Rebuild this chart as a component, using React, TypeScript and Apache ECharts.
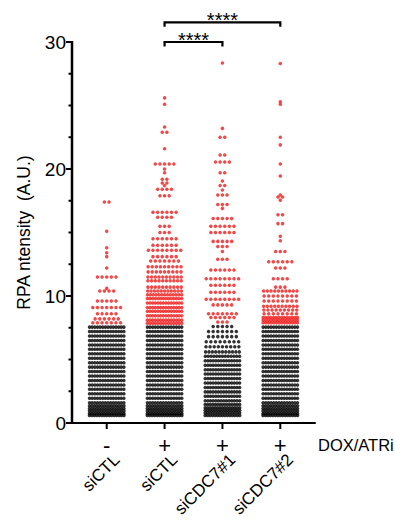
import React, { useEffect, useRef } from "react";
import * as echarts from "echarts";

// ---- data ----
const categories = ["siCTL", "siCTL", "siCDC7#1", "siCDC7#2"];
const treatment = ["-", "+", "+", "+"];
const yTicks = [0, 10, 20, 30];
const yMinorTicks = [2.5, 5, 7.5, 12.5, 15, 17.5, 22.5, 25, 27.5];
const yTitle = "RPA ntensity  (A.U.)";
const xTitle = "DOX/ATRi";
const redThreshold = 7.7;

// rows of the dot plot: [RPA intensity, number of cells in that row]
const siCTLminusRows: [number, number][] = [
  [17.4, 2], [15.1, 1], [13.8, 1], [13.4, 1], [13.1, 1], [12.2, 1], [11.5, 5], [10.6, 1],
  [10.4, 4], [9.6, 5], [9.1, 7], [8.6, 5], [8.2, 6], [7.9, 7],
  [7.55, 14], [7.2, 14], [6.85, 14], [6.5, 14], [6.15, 14], [5.8, 14], [5.45, 14], [5.1, 14],
  [4.75, 14], [4.4, 14], [4.05, 14], [3.7, 14], [3.35, 14], [3.0, 14], [2.65, 14], [2.3, 14],
  [1.95, 14], [1.6, 14], [1.35, 15], [1.15, 15], [0.95, 15], [0.75, 15], [0.6, 15],
];
const siCTLplusRows: [number, number][] = [
  [25.6, 1], [25.1, 1], [23.3, 1], [22.9, 2], [21.6, 1], [20.4, 5], [20.0, 1], [19.7, 1],
  [19.2, 2], [18.9, 2], [18.7, 1], [18.4, 4], [17.9, 3], [16.6, 6], [16.2, 4], [15.5, 3],
  [15.0, 3], [14.5, 6], [14.0, 6], [13.6, 8], [13.1, 6], [12.75, 7], [12.3, 9], [11.9, 9],
  [11.5, 10], [11.2, 10], [10.7, 10], [10.4, 11], [10.1, 13], [9.8, 14], [9.45, 14], [9.1, 14],
  [8.8, 14], [8.45, 14], [8.1, 14], [7.85, 14],
  [7.55, 14], [7.2, 14], [6.85, 14], [6.5, 14], [6.15, 14], [5.8, 14], [5.45, 14], [5.1, 14],
  [4.75, 14], [4.4, 14], [4.05, 14], [3.7, 14], [3.35, 14], [3.0, 14], [2.65, 14], [2.3, 14],
  [1.95, 14], [1.6, 14], [1.35, 15], [1.15, 15], [0.95, 15], [0.75, 15], [0.6, 15],
];
const siCDC7n1Rows: [number, number][] = [
  [28.35, 1], [23.2, 1], [22.5, 2], [21.1, 2], [20.55, 4], [19.7, 2], [19.05, 1], [18.7, 2],
  [18.35, 1], [17.95, 3], [17.2, 3], [16.9, 1], [16.1, 5], [15.5, 6], [15.0, 6], [14.3, 5],
  [13.9, 3], [13.5, 1], [12.9, 3], [12.05, 6], [11.35, 8], [10.85, 6], [10.3, 6], [9.75, 8],
  [9.3, 5], [8.6, 7], [8.3, 6], [7.95, 3],
  [7.6, 5], [7.2, 7], [6.8, 7], [6.4, 8], [6.0, 9], [5.6, 11],
  [5.25, 13], [4.9, 14], [4.55, 14], [4.2, 14], [3.85, 14], [3.5, 14], [3.15, 14], [2.8, 14],
  [2.45, 14], [2.1, 14], [1.75, 14], [1.45, 15], [1.2, 15], [1.0, 15], [0.8, 15], [0.6, 15],
];
const siCDC7n2Rows: [number, number][] = [
  [28.3, 1], [25.3, 1], [25.1, 1], [22.5, 1], [21.9, 1], [20.4, 1], [19.45, 1], [17.95, 1],
  [17.8, 2], [17.55, 1], [16.4, 2], [15.7, 2], [14.7, 1], [14.35, 1], [13.5, 3], [12.7, 6],
  [12.2, 3], [11.35, 4], [10.7, 3], [10.4, 10], [10.0, 8], [9.6, 8], [9.2, 10], [8.9, 9],
  [8.6, 8], [8.3, 14], [8.1, 14], [7.9, 14],
  [7.55, 14], [7.2, 14], [6.85, 14], [6.5, 14], [6.15, 14], [5.8, 14], [5.45, 14], [5.1, 14],
  [4.75, 14], [4.4, 14], [4.05, 14], [3.7, 14], [3.35, 14], [3.0, 14], [2.65, 14], [2.3, 14],
  [1.95, 14], [1.6, 14], [1.35, 15], [1.15, 15], [0.95, 15], [0.75, 15], [0.6, 15],
];
const columns = [siCTLminusRows, siCTLplusRows, siCDC7n1Rows, siCDC7n2Rows];

// significance comparisons: [from column, to column, label]
const comparisons: [number, number, string][] = [
  [1, 2, "****"],
  [1, 3, "****"],
];

function buildPoints() {
  const red: number[][] = [];
  const black: number[][] = [];
  columns.forEach((rows, ci) => {
    rows.forEach(([v, n]) => {
      const s = Math.min(0.08, 0.64 / n);
      for (let k = 0; k < n; k++) {
        const x = ci + (k - (n - 1) / 2) * s;
        (v > redThreshold ? red : black).push([x, v]);
      }
    });
  });
  return { red, black };
}

const FONT = "Liberation Sans";
const X_MIN = -0.6;
const X_MAX = 3.6;

export default function App() {
  const ref = useRef<HTMLDivElement>(null);
  useEffect(() => {
    if (!ref.current) return;
    const chart = echarts.init(ref.current, undefined, { renderer: "svg" });
    const { red, black } = buildPoints();
    const axisTickValues = [...yTicks, ...yMinorTicks];
    chart.setOption({
      animation: false,
      grid: { left: 72, right: 80, top: 42, bottom: 102 },
      xAxis: {
        type: "value",
        min: X_MIN,
        max: X_MAX,
        splitLine: { show: false },
        axisLine: { show: true, onZero: false, lineStyle: { color: "#000", width: 2 } },
        axisTick: { show: false },
        axisLabel: { show: false },
      },
      yAxis: {
        type: "value",
        min: 0,
        max: 30,
        interval: 10,
        splitLine: { show: false },
        axisLine: { show: true, onZero: false, lineStyle: { color: "#000", width: 2 } },
        axisTick: { show: true, length: 6, lineStyle: { color: "#000", width: 2 } },
        axisLabel: { color: "#000", fontSize: 19, fontFamily: FONT, margin: 6 },
      },
      series: [
        {
          type: "scatter",
          data: black,
          symbol: "circle",
          symbolSize: 3.5,
          itemStyle: { color: "#000" },
          silent: true,
        },
        {
          type: "scatter",
          data: red,
          symbol: "circle",
          symbolSize: 3.5,
          itemStyle: { color: "#f01a1a" },
          silent: true,
        },
        {
          // y axis line and ticks drawn through the axes' own scales
          type: "custom",
          clip: false,
          silent: true,
          z: 50,
          data: [[0]],
          renderItem: (_params: any, api: any) => {
            const b = api.coord([X_MIN, 0]);
            const t = api.coord([X_MIN, 30]);
            const children: any[] = [
              {
                type: "rect",
                shape: { x: b[0] - 1.25, y: t[1] - 1, width: 2.5, height: b[1] - t[1] + 2 },
                style: { fill: "#000" },
              },
            ];
            axisTickValues.forEach((v) => {
              const p = api.coord([X_MIN, v]);
              const len = yTicks.includes(v) ? 6 : 3.5;
              children.push({
                type: "rect",
                shape: { x: p[0] - len, y: p[1] - 1, width: len, height: 2 },
                style: { fill: "#000" },
              });
            });
            return { type: "group", children };
          },
        },
      ],
    });

    const px = (x: number, y: number) => chart.convertToPixel({ seriesIndex: 0 }, [x, y]) as number[];
    const graphics: any[] = [];
    const origin = px(X_MIN, 0);
    const axisX = origin[0];
    // y axis title
    const mid = px(X_MIN, 15);
    graphics.push({
      type: "text",
      x: axisX - 48,
      y: mid[1],
      rotation: Math.PI / 2,
      style: {
        text: yTitle,
        fill: "#000",
        font: `17.5px ${FONT}`,
        textAlign: "center",
        textVerticalAlign: "middle",
      },
    });
    // x ticks, treatment signs and rotated category labels
    categories.forEach((c, i) => {
      const p = px(i, 0);
      graphics.push({
        type: "rect",
        shape: { x: p[0] - 1, y: p[1] + 1, width: 2, height: 5 },
        style: { fill: "#000" },
      });
      graphics.push({
        type: "text",
        x: p[0],
        y: p[1] + 22,
        style: {
          text: treatment[i],
          fill: "#000",
          font: `22px ${FONT}`,
          textAlign: "center",
          textVerticalAlign: "middle",
        },
      });
      graphics.push({
        type: "text",
        x: p[0] + 10,
        y: p[1] + 34,
        rotation: Math.PI / 4,
        style: {
          text: c,
          fill: "#000",
          font: `17px ${FONT}`,
          textAlign: "right",
          textVerticalAlign: "middle",
        },
      });
    });
    // significance brackets
    const bracketLevels = [30.0, 31.55];
    comparisons.forEach(([a, b, label], i) => {
      const yTop = bracketLevels[i];
      const p1 = px(a, yTop);
      const p2 = px(b, yTop);
      const drop = 4.5;
      graphics.push({
        type: "polyline",
        shape: { points: [[p1[0], p1[1] + drop], [p1[0], p1[1]], [p2[0], p2[1]], [p2[0], p2[1] + drop]] },
        style: { stroke: "#000", lineWidth: 2.2, fill: null },
      });
      graphics.push({
        type: "text",
        x: (p1[0] + p2[0]) / 2,
        y: p1[1] + 8,
        style: {
          text: label,
          fill: "#000",
          font: `20px ${FONT}`,
          textAlign: "center",
          textVerticalAlign: "bottom",
        },
      });
    });
    const xEnd = px(X_MAX, 0);
    graphics.push({
      type: "text",
      x: xEnd[0] + 3,
      y: xEnd[1] + 22,
      style: { text: xTitle, fill: "#000", font: `16.5px ${FONT}`, textVerticalAlign: "middle" },
    });
    chart.setOption({ graphic: graphics });

    return () => chart.dispose();
  }, []);
  return <div ref={ref} style={{ position: "absolute", left: 0, top: 0, width: 395, height: 525 }} />;
}
